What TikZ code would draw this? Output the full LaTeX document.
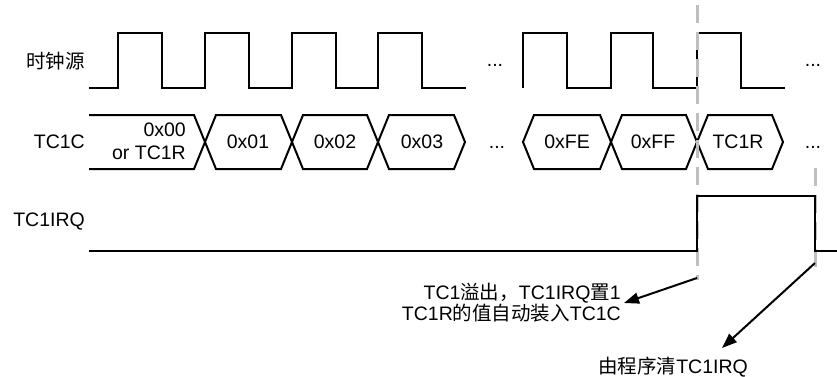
\documentclass[tikz,border=0pt]{standalone}
\usepackage{fontspec}
\setmainfont{Liberation Sans}
\newfontfamily\cjk{Noto Sans CJK SC}
\usetikzlibrary{arrows.meta,calc}
\newcommand\lblfont{\fontsize{19.5}{23}\selectfont}
\newcommand\notefont{\fontsize{19.5}{19.5}\selectfont}
\begin{document}
\begin{tikzpicture}[x=1pt,y=-1pt,
  sig/.style={line width=2pt, line join=miter},
  guide/.style={line width=3pt, draw=black!25, dash pattern=on 18pt off 9pt},
  lbl/.style={font=\lblfont, anchor=east, inner sep=1pt},
  val/.style={font=\lblfont, inner sep=1pt},
  dots/.style={font=\lblfont, inner sep=0pt},
  notetext/.style={font=\notefont, inner sep=3pt},
  notearrow/.style={-{Triangle[length=15pt,width=11pt]}, line width=2pt}]
\useasboundingbox (0,0) rectangle (837,376);

% clock source
\draw[sig] (89,88) -- (118,88) -- (118,33) -- (162,33) -- (162,88) -- (205,88) -- (205,33) -- (249,33) -- (249,88) -- (292,88) -- (292,33) -- (336,33) -- (336,88) -- (378,88) -- (378,33) -- (422,33) -- (422,88) -- (466,88);
\draw[sig] (523,88) -- (523,33) -- (567,33) -- (567,88) -- (611,88) -- (611,33) -- (653,33) -- (653,88) -- (697,88) -- (697,33) -- (741,33) -- (741,88) -- (785,88);

% TC1C bus
\draw[sig] (89,115) -- (194,115) -- (205,142) -- (194,169) -- (89,169);
\foreach \a/\b in {205/292, 292/378, 378/465, 523/611, 611/697, 697/783}{
  \draw[sig] (\a,142) -- (\a+11,115) -- (\b-11,115) -- (\b,142) -- (\b-11,169) -- (\a+11,169) -- cycle;
}

% guide lines
\draw[guide] (697,5) -- (697,280);
\draw[guide] (815,168) -- (815,268);

% TC1IRQ
\draw[sig] (89,251) -- (697,251) -- (697,196) -- (815,196) -- (815,251) -- (837,251);

% labels
\node[lbl] (lclk) at (86,61) {\cjk 时钟源};
\node[lbl] (lbus) at (86,142) {TC1C};
\node[lbl] (lirq) at (86,222) {TC1IRQ};

% bus values
\node[val, align=right, anchor=east] (v0) at (187,141.5) {0x00\\or TC1R};
\node[val] (v1) at (248,142) {0x01};
\node[val] (v2) at (335,142) {0x02};
\node[val] (v3) at (422,142) {0x03};
\node[val] (vfe) at (567,142) {0xFE};
\node[val] (vff) at (653,142) {0xFF};
\node[val] (vr) at (738,142) {TC1R};

% ellipses
\node[dots] (d1) at (495,65) {...};
\node[dots] (d2) at (813,65) {...};
\node[dots] (d3) at (497,147) {...};
\node[dots] (d4) at (813,147) {...};

% notes
\coordinate (s1) at (697,278);
\coordinate (s2) at (815,263);
\coordinate (e2) at (722,348);
\node[notetext, align=right, anchor=east] (n1) at (624,303) {TC1{\cjk 溢出，}TC1IRQ{\cjk 置}1\\TC1R{\cjk 的值自动装入}TC1C};
\node[notetext] (n2) at (673,367) {{\cjk 由程序清}TC1IRQ};
\draw[notearrow] (s1) -- (n1.east);
\draw[notearrow] (s2) -- (e2);
\end{tikzpicture}
\end{document}
